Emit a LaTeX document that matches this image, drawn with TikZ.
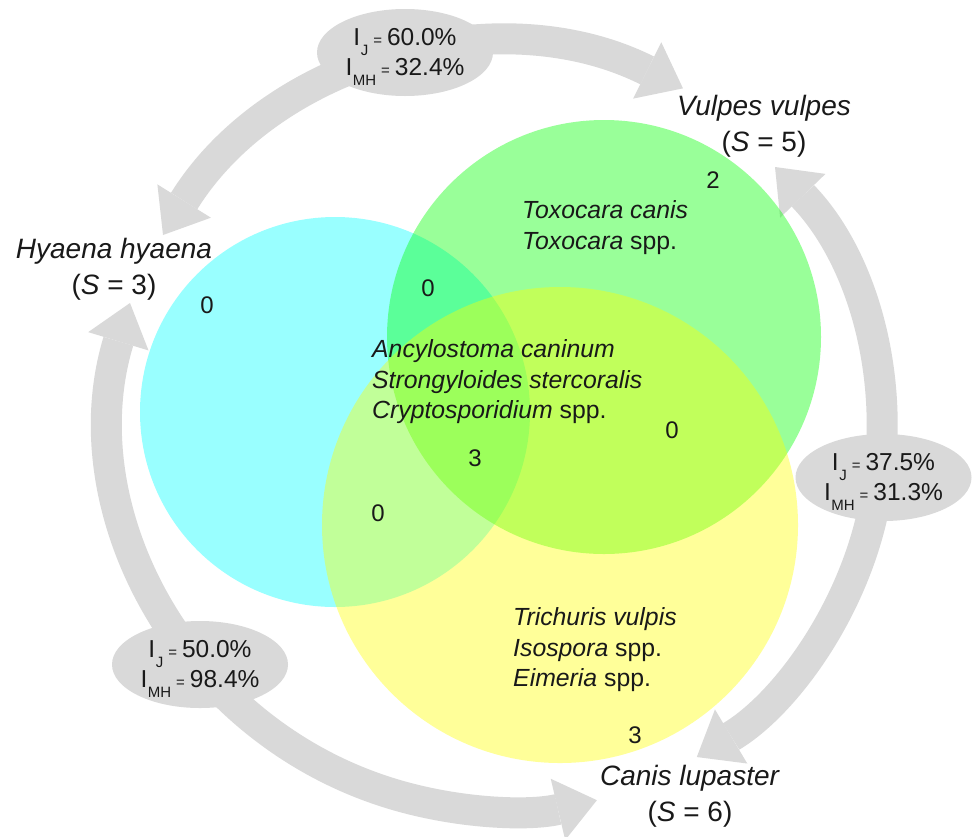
\documentclass[tikz,border=0pt]{standalone}
\usepackage{fontspec}
\setmainfont{Liberation Sans}
\usetikzlibrary{arrows.meta,shapes.geometric}
\definecolor{arrowgray}{RGB}{217,217,217}
\definecolor{txtc}{RGB}{25,25,25}
\definecolor{vcyan}{RGB}{0,255,255}
\definecolor{vgreen}{RGB}{0,255,0}
\definecolor{vyellow}{RGB}{255,255,0}
\newcommand{\subfnt}{\fontsize{15}{15}\selectfont}
\newcommand{\idxline}[2]{I\kern0.5pt\raisebox{-10pt}{\subfnt #1}\kern5pt{\subfnt =}\kern5pt #2}
\begin{document}
\begin{tikzpicture}[x=1pt,y=-1pt,
  garrow/.style={draw=arrowgray, line width=31pt,
    arrows={Triangle[length=40pt,width=63pt,line width=0pt]-Triangle[length=40pt,width=63pt,line width=0pt]}},
  venn/.style={circle, inner sep=0pt, fill opacity=0.4},
  ell/.style={ellipse, fill=arrowgray, inner sep=0pt, minimum width=176pt, minimum height=87pt},
  idxtxt/.style={anchor=north, inner sep=0pt, align=center, text=txtc, font=\fontsize{24.5}{30}\selectfont},
  host/.style={anchor=north, inner sep=0pt, align=center, text=txtc, font=\fontsize{28}{36}\selectfont},
  para/.style={anchor=north west, inner sep=0pt, align=left, text=txtc, font=\fontsize{24.8}{30.5}\selectfont},
  num/.style={inner sep=0pt, text=txtc, font=\fontsize{24}{28}\selectfont}]
\useasboundingbox[fill=white] (0,0) rectangle (973,836);

% cycle arrows
\coordinate (hvA) at (163,235);
\draw[garrow] (hvA) arc[start angle=-148.1, end angle=-63.4, radius=401];
\coordinate (vcA) at (775,167);
\draw[garrow] (vcA) arc[start angle=-44.0, end angle=59.1, radius=380];
\coordinate (hcA) at (130,303);
\draw[garrow] (hcA) arc[start angle=196.9, end angle=76.7, radius=393.4];

% Venn circles
\node[venn, fill=vcyan, minimum size=390pt] (cH) at (335,412) {};
\node[venn, fill=vgreen, minimum size=434pt] (cV) at (604,337) {};
\node[venn, fill=vyellow, minimum size=476pt] (cC) at (560,525) {};

% index ellipses
\node[ell] (e1) at (405,52.5) {};
\node[idxtxt] (t1) at ([yshift=24.5pt]e1.center) {\idxline{J}{60.0\%}\\\idxline{MH}{32.4\%}};
\node[ell] (e2) at (883.5,477.5) {};
\node[idxtxt] (t2) at ([yshift=24.5pt]e2.center) {\idxline{J}{37.5\%}\\\idxline{MH}{31.3\%}};
\node[ell] (e3) at (200,664.5) {};
\node[idxtxt] (t3) at ([yshift=24.5pt]e3.center) {\idxline{J}{50.0\%}\\\idxline{MH}{98.4\%}};

% host labels
\node[host] (hy) at (114,237.6) {\textit{Hyaena hyaena}\\(\textit{S} = 3)};
\node[host] (vu) at (764,94.6) {\textit{Vulpes vulpes}\\(\textit{S} = 5)};
\node[host] (ca) at (690,764.6) {\textit{Canis lupaster}\\(\textit{S} = 6)};

% parasite lists
\node[para] (pV) at (522,200.5) {\textit{Toxocara canis}\\\textit{Toxocara} spp.};
\node[para] (pAll) at (372,339.5) {\textit{Ancylostoma caninum}\\\textit{Strongyloides stercoralis}\\\textit{Cryptosporidium} spp.};
\node[para] (pC) at (513,607.5) {\textit{Trichuris vulpis}\\\textit{Isospora} spp.\\\textit{Eimeria} spp.};

% counts
\node[num] (n1) at (207,305) {0};
\node[num] (n2) at (428,288) {0};
\node[num] (n3) at (713,180) {2};
\node[num] (n4) at (475,458) {3};
\node[num] (n5) at (672,430) {0};
\node[num] (n6) at (378,513) {0};
\node[num] (n7) at (635,735) {3};
\end{tikzpicture}
\end{document}
